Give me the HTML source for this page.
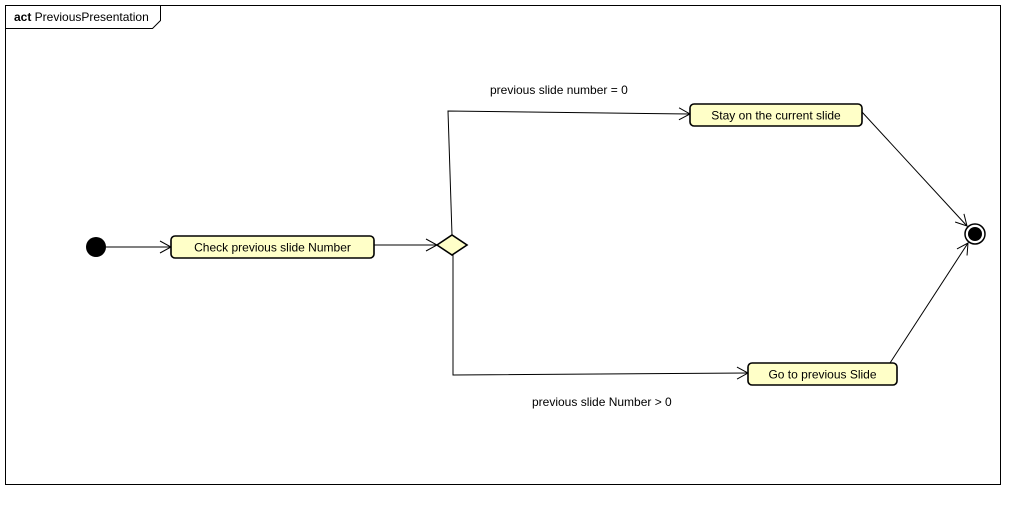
<!DOCTYPE html>
<html><head><style>body{margin:0;background:#fff}svg text{font-family:"Liberation Sans",sans-serif;font-size:12px}</style></head><body>
<svg width="1016" height="507" xmlns="http://www.w3.org/2000/svg">
<defs><marker id="a" markerWidth="14" markerHeight="14" refX="12" refY="7" orient="auto" markerUnits="userSpaceOnUse"><path d="M1,1 L12,7 L1,13" fill="none" stroke="#000" stroke-width="1"/></marker></defs>
<rect x="5.5" y="5.5" width="995" height="479" fill="#fff" stroke="#000"/>
<path d="M5.5,28.5 H152.5 L160.5,20.5 V5.5" fill="none" stroke="#000"/>
<text x="14" y="21"><tspan font-weight="bold">act</tspan> PreviousPresentation</text>
<circle cx="96" cy="247" r="10" fill="#000"/>
<line x1="106" y1="247" x2="171" y2="247" stroke="#000" marker-end="url(#a)"/>
<rect x="171" y="236" width="203" height="22" rx="4" fill="#ffffc8" stroke="#000" stroke-width="1.6"/>
<text x="272.5" y="251.5" text-anchor="middle">Check previous slide Number</text>
<line x1="374" y1="245" x2="437" y2="245" stroke="#000" marker-end="url(#a)"/>
<polygon points="437,245 452,235 467,245 452,255" fill="#ffffc8" stroke="#000" stroke-width="1.6"/>
<polyline points="452,235 448,111 690,114" fill="none" stroke="#000" marker-end="url(#a)"/>
<polyline points="453,255 453,375 748,373" fill="none" stroke="#000" marker-end="url(#a)"/>
<text x="490" y="94">previous slide number = 0</text>
<text x="532" y="406">previous slide Number &gt; 0</text>
<rect x="690" y="104" width="172" height="22" rx="4" fill="#ffffc8" stroke="#000" stroke-width="1.6"/>
<text x="776" y="119.5" text-anchor="middle">Stay on the current slide</text>
<rect x="748" y="363" width="149" height="22" rx="4" fill="#ffffc8" stroke="#000" stroke-width="1.6"/>
<text x="822.5" y="378.5" text-anchor="middle">Go to previous Slide</text>
<line x1="862" y1="112" x2="967" y2="226" stroke="#000" marker-end="url(#a)"/>
<line x1="890" y1="363" x2="968" y2="243" stroke="#000" marker-end="url(#a)"/>
<circle cx="975" cy="234" r="10" fill="#fff" stroke="#000" stroke-width="1.5"/>
<circle cx="975" cy="234" r="7" fill="#000"/>
</svg>
</body></html>
